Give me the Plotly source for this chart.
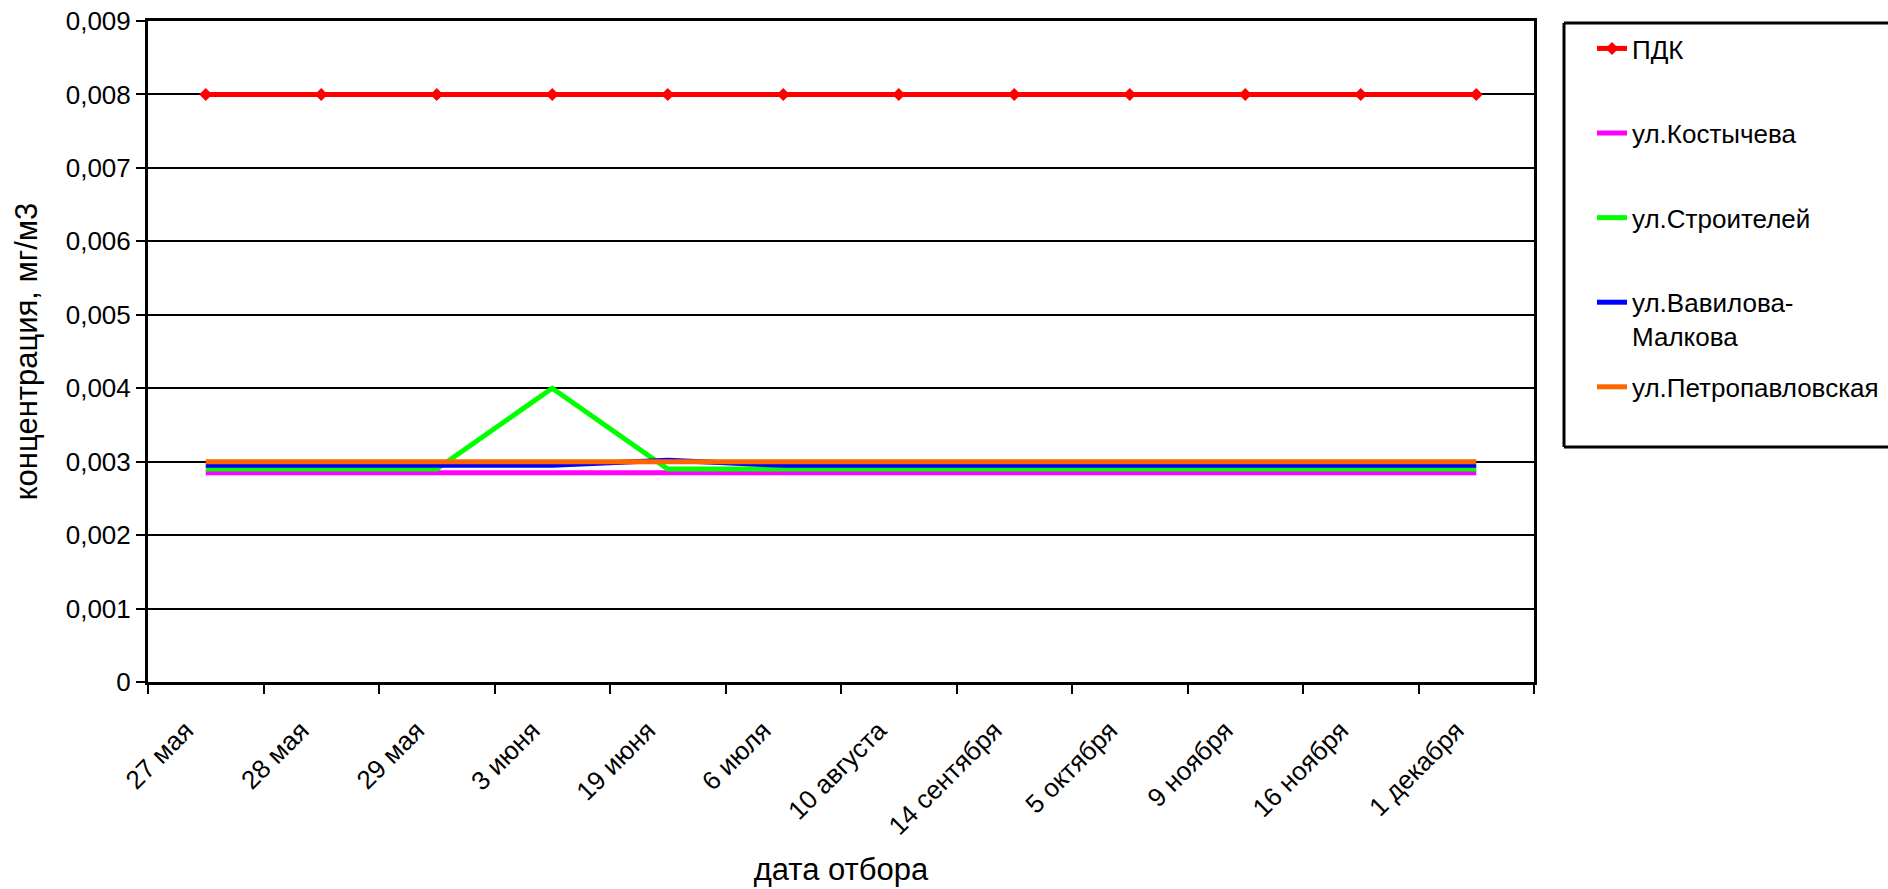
import plotly.graph_objects as go

dates = ["27 мая", "28 мая", "29 мая", "3 июня", "19 июня", "6 июля", "10 августа",
         "14 сентября", "5 октября", "9 ноября", "16 ноября", "1 декабря"]
pdk = [0.008, 0.008, 0.008, 0.008, 0.008, 0.008, 0.008, 0.008, 0.008, 0.008, 0.008, 0.008]
kostycheva = [0.00285, 0.00285, 0.00285, 0.00285, 0.00285, 0.00285, 0.00285, 0.00285, 0.00285, 0.00285, 0.00285, 0.00285]
stroiteley = [0.0029, 0.0029, 0.0029, 0.004, 0.0029, 0.0029, 0.0029, 0.0029, 0.0029, 0.0029, 0.0029, 0.0029]
vavilova = [0.00295, 0.00295, 0.00295, 0.00295, 0.00302, 0.00295, 0.00295, 0.00295, 0.00295, 0.00295, 0.00295, 0.00295]
petropavl = [0.003, 0.003, 0.003, 0.003, 0.003, 0.003, 0.003, 0.003, 0.003, 0.003, 0.003, 0.003]

y_tickvals = [0, 0.001, 0.002, 0.003, 0.004, 0.005, 0.006, 0.007, 0.008, 0.009]
y_ticktext = ["0", "0,001", "0,002", "0,003", "0,004", "0,005", "0,006", "0,007", "0,008", "0,009"]

series = [
    ("ПДК<br> ", pdk, "#FF0000", True),
    ("ул.Костычева<br> ", kostycheva, "#FF00FF", False),
    ("ул.Строителей<br> ", stroiteley, "#00FF00", False),
    ("ул.Вавилова-<br>Малкова", vavilova, "#0000FF", False),
    ("ул.Петропавловская<br> ", petropavl, "#FF6600", False),
]

FONT = "Liberation Sans, Arial, sans-serif"
L, R, T, B = 148, 354, 21, 207
W, H = 1888, 889
PW, PH = W - L - R, H - T - B

def px_x(x):
    return (x - L) / PW

def px_y(y):
    return (H - B - y) / PH

fig = go.Figure()
for i, (name, vals, color, markers) in enumerate(series):
    fig.add_trace(go.Scatter(
        x=dates, y=vals, name=name,
        mode="lines+markers" if markers else "lines",
        line=dict(color=color, width=5),
        marker=dict(symbol="diamond", size=10, color=color),
        legendgroup=f"g{i}",
    ))

# legend frame (right side is cut off by the figure edge, as in the original)
bx0, bx1, by0, by1 = px_x(1564), px_x(1888), px_y(447), px_y(23)
frame = dict(type="line", xref="paper", yref="paper", line=dict(color="black", width=3))
shapes = [
    dict(frame, x0=bx0, x1=bx1, y0=by1, y1=by1),
    dict(frame, x0=bx0, x1=bx1, y0=by0, y1=by0),
    dict(frame, x0=bx0, x1=bx0, y0=by0, y1=by1),
]

fig.update_layout(
    width=W, height=H,
    margin=dict(l=L, r=R, t=T, b=B, autoexpand=False),
    paper_bgcolor="white", plot_bgcolor="white",
    font=dict(family=FONT, size=26, color="black"),
    showlegend=True,
    legend=dict(
        x=px_x(1592), y=px_y(25), xanchor="left", yanchor="top",
        traceorder="grouped", tracegroupgap=14, valign="top",
        bgcolor="rgba(0,0,0,0)", borderwidth=0,
        font=dict(family=FONT, size=26, color="black"),
    ),
    xaxis=dict(
        type="category", tickson="boundaries",
        range=[-0.5, len(dates) - 0.5], autorange=False,
        showline=True, linecolor="black", linewidth=3, mirror=True,
        ticks="outside", ticklen=9, tickwidth=2, tickcolor="black",
        tickangle=-45, showgrid=False,
        ticklabelshift=-20, ticklabelstandoff=20,
        tickfont=dict(family=FONT, size=26, color="black"),
        title=dict(text="дата отбора", standoff=19,
                   font=dict(family=FONT, size=31, color="black")),
    ),
    yaxis=dict(
        range=[0, 0.009],
        tickvals=y_tickvals, ticktext=y_ticktext,
        showline=True, linecolor="black", linewidth=3, mirror=True,
        ticks="outside", ticklen=9, tickwidth=2, tickcolor="black",
        showgrid=True, gridcolor="black", gridwidth=2, zeroline=False,
        tickfont=dict(family=FONT, size=26, color="black"),
        title=dict(text="концентрация, мг/м3", standoff=19,
                   font=dict(family=FONT, size=31, color="black")),
    ),
    shapes=shapes,
)

fig.write_html("out.html")
